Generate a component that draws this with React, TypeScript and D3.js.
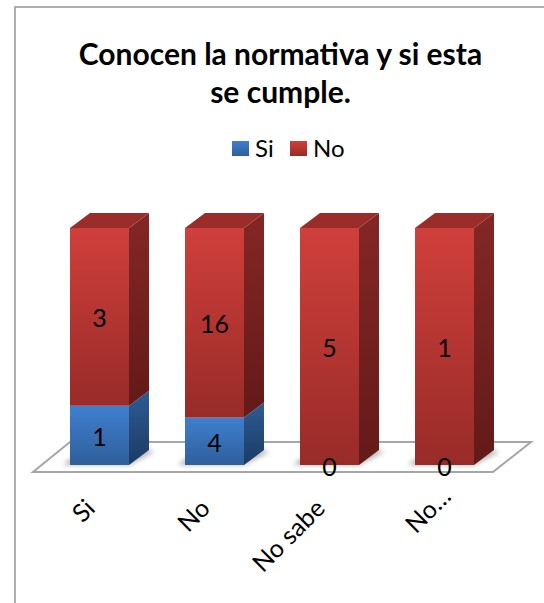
import { useRef, useEffect } from 'react'
import * as d3 from 'd3'

const categories = ['Si', 'No', 'No sabe', 'No…']
const seriesNames = ['Si', 'No']
const siValues = [1, 4, 0, 0]
const noValues = [3, 16, 5, 1]
const titleLines = ['Conocen la normativa y si esta', 'se cumple.']

const FONT = 'Lato, "Noto Sans", sans-serif'

const palette: Record<string, { front: [string, string]; side: [string, string]; top: string }> = {
	Si: { front: ['#3f7fcf', '#2f5f9c'], side: ['#2d5c93', '#1c3b64'], top: '#2d5c93' },
	No: { front: ['#d03f3b', '#982b28'], side: ['#842725', '#631a18'], top: '#9a2d2a' },
}

const App = () => {
	const svgRef = useRef<SVGSVGElement | null>(null)

	useEffect(() => {
		if (!svgRef.current) return

		const width = 544
		const height = 603
		const depth = { x: 20, y: -15 }
		const rows = categories.map((c, i) => ({ category: c, Si: siValues[i], No: noValues[i] }))

		d3.select(svgRef.current).selectAll('*').remove()

		const svg = d3
			.select(svgRef.current)
			.attr('width', width)
			.attr('height', height)
			.style('position', 'absolute')
			.style('left', 0)
			.style('top', 0)
			.style('font-family', FONT)

		const x = d3
			.scaleBand()
			.domain(categories)
			.range([42, 502])
			.paddingInner(0.487)
			.paddingOuter(0.2435)

		const y = d3.scaleLinear().domain([0, 1]).range([465, 228])

		const stacked = d3
			.stack<any>()
			.keys(seriesNames)
			.offset(d3.stackOffsetExpand)(rows)

		const defs = svg.append('defs')
		seriesNames.forEach((name) => {
			;(['front', 'side'] as const).forEach((face) => {
				const g = defs
					.append('linearGradient')
					.attr('id', `${name}-${face}`)
					.attr('x1', 0)
					.attr('y1', 0)
					.attr('x2', 0)
					.attr('y2', 1)
				g.append('stop').attr('offset', 0).attr('stop-color', palette[name][face][0])
				g.append('stop').attr('offset', 1).attr('stop-color', palette[name][face][1])
			})
		})
		defs
			.append('filter')
			.attr('id', 'blur')
			.attr('x', -0.3)
			.attr('y', -1)
			.attr('width', 1.6)
			.attr('height', 3)
			.append('feGaussianBlur')
			.attr('stdDeviation', 2.5)

		// Chart frame, runs off the right and bottom of the picture
		svg
			.append('rect')
			.attr('x', 15)
			.attr('y', 7)
			.attr('width', 560)
			.attr('height', 640)
			.attr('fill', '#fff')
			.attr('stroke', '#9a9a9a')
			.attr('stroke-width', 1.6)

		// Title
		svg
			.append('g')
			.selectAll('text')
			.data(titleLines)
			.enter()
			.append('text')
			.attr('x', 280.5)
			.attr('y', (_, i) => 65 + i * 38)
			.attr('text-anchor', 'middle')
			.attr('font-size', 30)
			.attr('font-weight', 700)
			.attr('fill', '#000')
			.text((d) => d)

		// Legend
		const legendX = d3.scaleOrdinal<string, number>().domain(seriesNames).range([232, 290])
		const legend = svg
			.append('g')
			.selectAll('g')
			.data(seriesNames)
			.enter()
			.append('g')
			.attr('transform', (d) => `translate(${legendX(d)},141)`)
		legend
			.append('rect')
			.attr('width', 17)
			.attr('height', 15)
			.attr('fill', (d) => `url(#${d}-front)`)
		legend
			.append('text')
			.attr('x', 23)
			.attr('y', 16)
			.attr('font-size', 24)
			.attr('fill', '#000')
			.text((d) => d)

		// Floor
		const floorLine = d3.line()
		svg
			.append('path')
			.attr(
				'd',
				floorLine([
					[33, 472],
					[493, 472],
					[531, 442],
					[70, 442],
				]) + 'Z'
			)
			.attr('fill', '#fff')
			.attr('stroke', '#a6a6a6')
			.attr('stroke-width', 2)

		// Floor shadows
		svg
			.append('g')
			.selectAll('path')
			.data(categories)
			.enter()
			.append('path')
			.attr('d', (d) => {
				const x0 = x(d)!
				const w = x.bandwidth()
				return floorLine([
					[x0 - 7, y(0)],
					[x0 + w, y(0)],
					[x0 + w + depth.x + 5, y(0) - 13],
					[x0 + w + depth.x, y(0) - 15],
					[x0, y(0) - 6],
				])!
			})
			.attr('fill', '#b4b4b4')
			.attr('filter', 'url(#blur)')

		// Bars
		const series = svg
			.append('g')
			.selectAll('g')
			.data(stacked)
			.enter()
			.append('g')

		const segments = series
			.selectAll('g')
			.data((s) => s.map((p) => ({ name: s.key, y0: p[0], y1: p[1], category: p.data.category })))
			.enter()
			.filter((d) => d.y1 > d.y0)
			.append('g')

		segments
			.append('path')
			.attr('d', (d) => {
				const r = x(d.category)! + x.bandwidth()
				return floorLine([
					[r, y(d.y1)],
					[r + depth.x, y(d.y1) + depth.y],
					[r + depth.x, y(d.y0) + depth.y],
					[r, y(d.y0)],
				]) + 'Z'
			})
			.attr('fill', (d) => `url(#${d.name}-side)`)

		segments
			.filter((d) => d.y1 === 1)
			.append('path')
			.attr('d', (d) => {
				const l = x(d.category)!
				const w = x.bandwidth()
				return floorLine([
					[l, y(1)],
					[l + depth.x, y(1) + depth.y],
					[l + w + depth.x, y(1) + depth.y],
					[l + w, y(1)],
				]) + 'Z'
			})
			.attr('fill', (d) => palette[d.name].top)

		segments
			.append('rect')
			.attr('x', (d) => x(d.category)!)
			.attr('y', (d) => y(d.y1))
			.attr('width', x.bandwidth())
			.attr('height', (d) => y(d.y0) - y(d.y1))
			.attr('fill', (d) => `url(#${d.name}-front)`)

		// Value labels, zeros included
		const labels = svg.append('g').attr('font-size', 25).attr('fill', '#000').attr('text-anchor', 'middle')
		stacked.forEach((s) => {
			s.forEach((p, i) => {
				labels
					.append('text')
					.attr('x', x(categories[i])! + x.bandwidth() / 2)
					.attr('y', y((p[0] + p[1]) / 2) + 10.5)
					.text(s.key === 'Si' ? siValues[i] : noValues[i])
			})
		})

		// Category axis
		const axis = svg
			.append('g')
			.attr('transform', 'translate(0,472)')
			.call(d3.axisBottom(x).tickSize(0))
		axis.select('.domain').remove()
		axis
			.selectAll('text')
			.attr('font-family', FONT)
			.attr('font-size', 25)
			.attr('fill', '#000')
			.attr('text-anchor', 'end')
			.attr('dy', 0)
			.attr('y', 0)
			// the truncated label sits higher up than the others
			.attr('transform', (d) => (d === 'No…' ? 'translate(8,26) rotate(-45)' : 'translate(-3,38) rotate(-45)'))
	}, [])

	return <svg ref={svgRef}></svg>
}

export default App
